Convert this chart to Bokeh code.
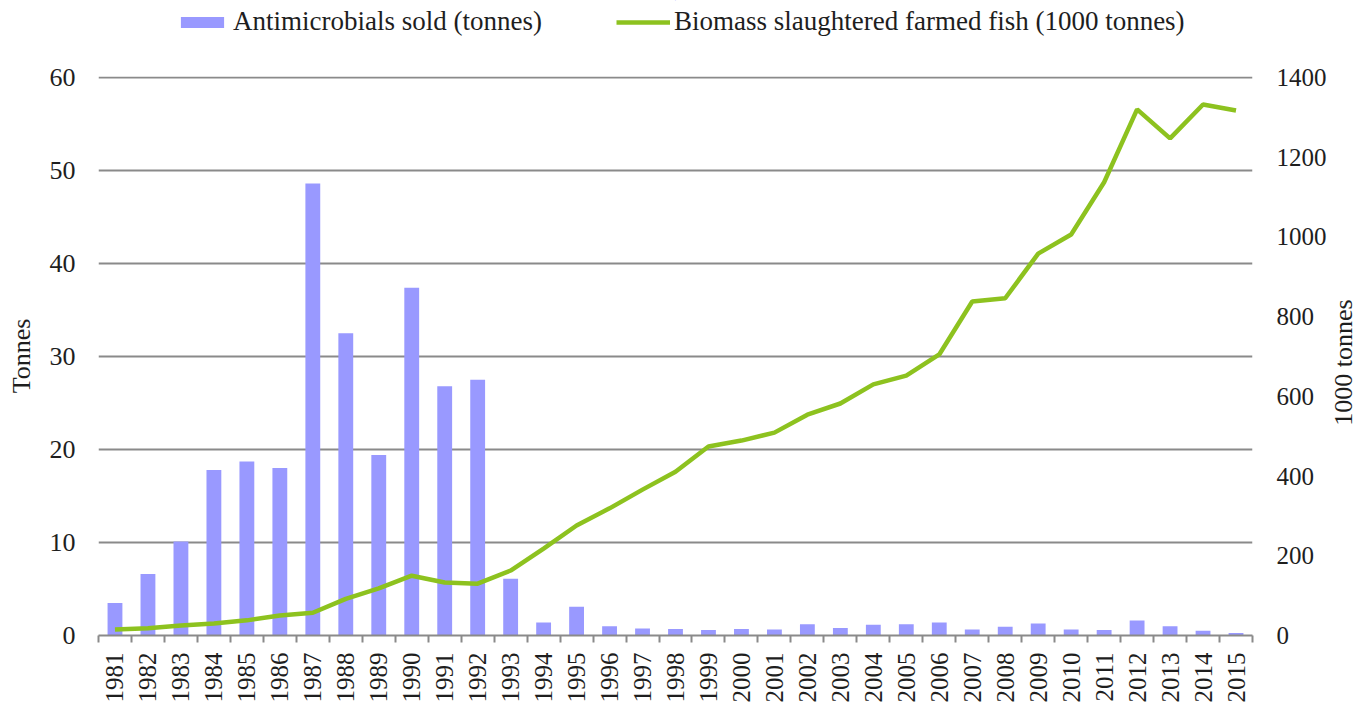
import math
from bokeh.plotting import figure
from bokeh.layouts import column, row
from bokeh.models import Range1d, LinearAxis, FixedTicker, Legend, LegendItem, ColumnDataSource, Label
from bokeh.embed import file_html
from bokeh.resources import INLINE

years = list(range(1981, 2016))
year_labels = [str(y) for y in years]
antimicrobials = [3.5, 6.6, 10.1, 17.8, 18.7, 18.0, 48.6, 32.5, 19.4, 37.4, 26.8, 27.5,
                  6.1, 1.4, 3.1, 1.0, 0.75, 0.7, 0.6, 0.7, 0.65, 1.2, 0.8, 1.15, 1.2,
                  1.4, 0.65, 0.95, 1.3, 0.65, 0.6, 1.6, 1.0, 0.5, 0.27]
biomass = [15, 18, 25, 30, 38, 50, 57, 92, 118, 150, 133, 130, 163, 218, 276, 319,
           366, 411, 474, 489, 509, 554, 582, 630, 652, 705, 838, 846, 958, 1006,
           1137, 1320, 1247, 1332, 1317]
left_ticks = [0, 10, 20, 30, 40, 50, 60]
right_ticks = [0, 200, 400, 600, 800, 1000, 1200, 1400]
series_names = ["Antimicrobials sold (tonnes)", "Biomass slaughtered farmed fish (1000 tonnes)"]
right_title = "1000 tonnes"

FONT = "Liberation Serif"
TXT = "#1e1e1e"
GRID = "#8a8a8a"
BAR = "#9999FF"
LINE = "#8DC21F"

W = 1358
LEG_H = 44
FRAME_W = 1154
FRAME_H = 559
B_LEFT, B_TOP, B_BOTTOM = 98, 76 - LEG_H, 70
B_RIGHT = 78
TITLE_W = W - (B_LEFT + FRAME_W + B_RIGHT)

src = ColumnDataSource(dict(year=years, anti=antimicrobials, bio=biomass))

top_left = 60.1
p = figure(frame_width=FRAME_W, frame_height=FRAME_H, output_backend="svg", toolbar_location=None,
           x_range=Range1d(years[0] - 0.5, years[-1] + 0.5), y_range=Range1d(0, top_left),
           min_border_left=B_LEFT, min_border_right=B_RIGHT, min_border_top=B_TOP,
           min_border_bottom=B_BOTTOM)
p.outline_line_color = None
p.background_fill_color = "white"
p.border_fill_color = "white"
p.extra_y_ranges = {"bio": Range1d(0, 1400 * top_left / 60)}

bars = p.vbar(x="year", top="anti", width=0.45, source=src, fill_color=BAR, line_color=None)
line = p.line(x="year", y="bio", source=src, y_range_name="bio", line_color=LINE, line_width=4.5)

# x axis
xa = p.xaxis[0]
xa.ticker = FixedTicker(ticks=years, minor_ticks=[y - 0.5 for y in years] + [years[-1] + 0.5])
xa.major_label_overrides = {y: s for y, s in zip(years, year_labels)}
xa.major_label_orientation = math.pi / 2
xa.major_tick_line_color = None
xa.major_tick_out = 7
xa.major_tick_in = 0
xa.minor_tick_line_color = GRID
xa.minor_tick_line_width = 2
xa.minor_tick_in = 0
xa.minor_tick_out = 7
xa.axis_line_color = GRID
xa.axis_line_width = 2
xa.major_label_text_font = FONT
xa.major_label_text_font_size = "25px"
xa.major_label_text_color = TXT
xa.major_label_standoff = 10
p.xgrid.grid_line_color = None

# left axis
ya = p.yaxis[0]
ya.ticker = FixedTicker(ticks=left_ticks)
ya.axis_line_color = None
ya.major_tick_line_color = None
ya.major_tick_out = 0
ya.minor_tick_line_color = None
ya.major_label_text_font = FONT
ya.major_label_text_font_size = "26px"
ya.major_label_text_color = TXT
ya.major_label_standoff = 23
ya.axis_label = "Tonnes"
ya.axis_label_text_font = FONT
ya.axis_label_text_font_size = "26px"
ya.axis_label_text_font_style = "normal"
ya.axis_label_text_color = TXT
ya.axis_label_standoff = 11
p.ygrid.ticker = FixedTicker(ticks=left_ticks)
p.ygrid.grid_line_color = GRID
p.ygrid.grid_line_width = 2

# right axis (tick labels only; its title sits in the strip to the right)
ra = LinearAxis(y_range_name="bio", ticker=FixedTicker(ticks=right_ticks))
ra.axis_line_color = None
ra.major_tick_line_color = None
ra.major_tick_out = 0
ra.minor_tick_line_color = None
ra.major_label_text_font = FONT
ra.major_label_text_font_size = "25px"
ra.major_label_text_color = TXT
ra.major_label_standoff = 24
p.add_layout(ra, "right")

# strip holding the right axis title, reading bottom-to-top, centred like the reference
rf = figure(width=TITLE_W, height=B_TOP + FRAME_H + B_BOTTOM, output_backend="svg",
            toolbar_location=None, x_range=Range1d(0, 1), y_range=Range1d(0, 1),
            x_axis_type=None, y_axis_type=None, min_border_left=0, min_border_right=0,
            min_border_top=B_TOP, min_border_bottom=B_BOTTOM)
rf.outline_line_color = None
rf.xgrid.grid_line_color = None
rf.ygrid.grid_line_color = None
rf.add_layout(Label(x=TITLE_W / 2 - 1, y=273, x_units="screen", y_units="screen", text=right_title,
                    angle=math.pi / 2, angle_units="rad", text_align="center",
                    text_baseline="middle", text_font=FONT, text_font_size="26px",
                    text_color=TXT))

# legend strip above the chart
lg = figure(width=W, height=LEG_H, output_backend="svg", toolbar_location=None,
            x_range=Range1d(0, 1), y_range=Range1d(0, 1), x_axis_type=None, y_axis_type=None,
            min_border_left=B_LEFT, min_border_right=W - B_LEFT - FRAME_W,
            min_border_top=0, min_border_bottom=0)
lg.outline_line_color = None
lg.xgrid.grid_line_color = None
lg.ygrid.grid_line_color = None
# swatch renderers: their data lies outside this strip's ranges, only the legend shows them
lb = lg.vbar(x=[0.5], bottom=[5], top=[6], width=0.001, fill_color=BAR, line_color=None)
ll = lg.line(x=[0.5, 0.501], y=[5, 5], line_color=LINE, line_width=4.5)
legend = Legend(items=[LegendItem(label=series_names[0], renderers=[lb]),
                       LegendItem(label=series_names[1], renderers=[ll])],
                orientation="horizontal", location=(77, 7))
legend.label_text_font = FONT
legend.label_text_font_size = "27px"
legend.label_text_color = TXT
legend.glyph_width = 54
legend.glyph_height = 14
legend.label_standoff = 4
legend.spacing = 74
legend.padding = 0
legend.margin = 0
legend.border_line_color = None
legend.background_fill_alpha = 0
lg.add_layout(legend, "center")

layout = column(lg, row(p, rf, spacing=0), spacing=0)
open("out.html", "w").write(file_html(layout, INLINE))
